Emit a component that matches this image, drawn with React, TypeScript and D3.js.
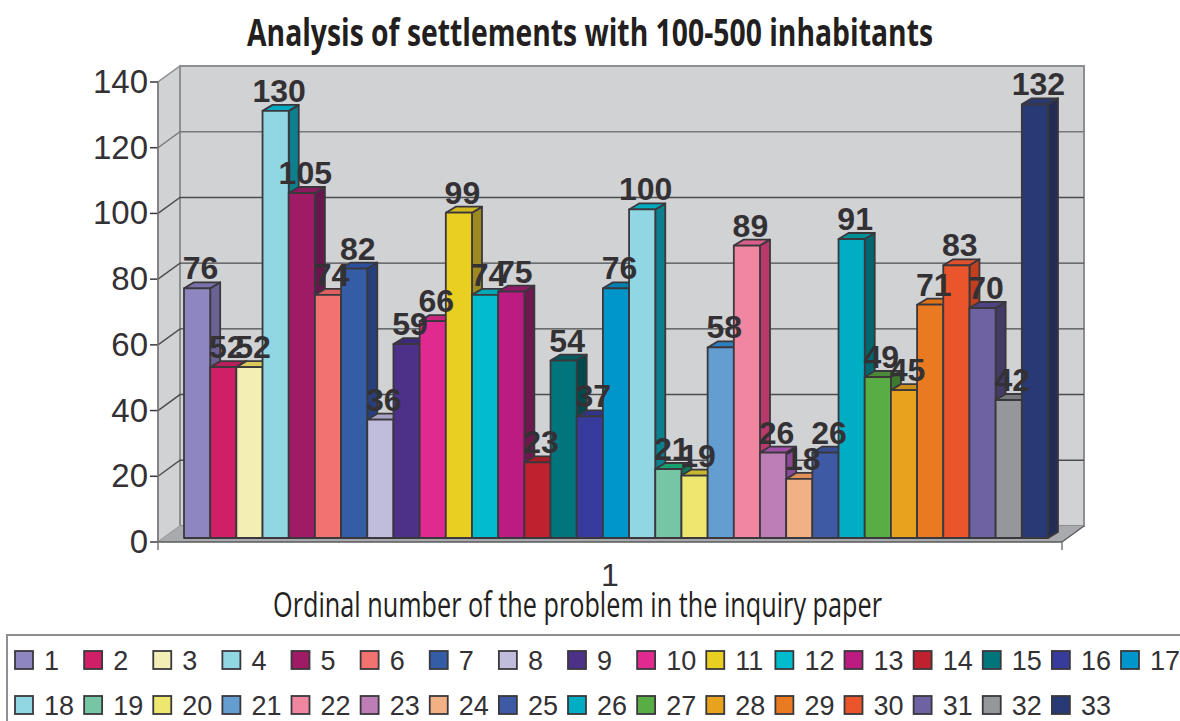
import React from "react";
import * as d3 from "d3";

const categories = Array.from({ length: 33 }, (_, i) => String(i + 1));
const values = [76,52,52,130,105,74,82,36,59,66,99,74,75,23,54,37,76,100,21,19,58,89,26,18,26,91,49,45,71,83,70,42,132];
const fronts = ["#8e86c0","#d01f67","#f3efb4","#90d6e3","#9f1b66","#f27270","#345da6","#c0bcdc","#4d3087","#e02a8f","#e9cf22","#00bccd","#bc1c82","#c0212f","#00767c","#373c9c","#0096cc","#90d6e3","#76c5a5","#ede770","#649dcf","#f186a0","#bd7db7","#f2b085","#3f5aa5","#00aec4","#58ae44","#e8a21e","#ea7a22","#ea552b","#6e62a3","#96979b","#283a76"];
const sides = ["#6a6292","#a01a4e","#b5b280","#0d8090","#65174e","#b85552","#27407c","#9290a6","#3a2466","#a8206c","#9c8a20","#008c9a","#6f1850","#901923","#004a4e","#292d75","#00719a","#0d8090","#0c7a58","#b2ae54","#4b769c","#b83a6c","#8a4a9a","#b68564","#2f447c","#006670","#3c7a30","#ae7a17","#b05c1a","#c04020","#453a66","#717275","#232c54"];
const tops = ["#7a72a8","#b81d5c","#d9c95a","#00a9c0","#8c1a5c","#e06060","#2b50a0","#a8a4c8","#3d2a7a","#c8257e","#d0b81e","#00a8b8","#8f1a65","#a81c28","#005a5e","#30358a","#0080b0","#00a9c0","#1aa06f","#c8b830","#2f7fc0","#d86088","#a050a8","#e09058","#374f92","#009098","#4a8a38","#cc8e1a","#e07018","#e0502a","#4f4386","#77787b","#2a3a70"];
const yTicks = [0, 20, 40, 60, 80, 100, 120, 140];
const titleText = "Analysis of settlements with 100-500 inhabitants";
const xTitleText = "Ordinal number of the problem in the inquiry paper";
const xCategory = "1";

const W = 1180, H = 721;
const frontLeft = 158, frontRight = 1062, wallDx = 22, wallDy = -16;
const y = d3.scaleLinear().domain([0, 140]).range([542, 82]);
const x = d3.scaleBand().domain(categories).range([184, 1048]).padding(0);
const barLiftY = -4, sideDx = 10, sideDy = -6;
const ink = "#3a383c", wallFill = "#d1d2d4", wallEdge = "#8e8f92";
const legendX = d3.scaleLinear().domain([0, 16]).range([14, 1120]);
const poly = (pts: number[][]) => d3.line()(pts as [number, number][]) + "Z";

export default function App() {
  return (
    <svg width={W} height={H} style={{ position: "fixed", left: 0, top: 0, background: "#fff" }} fontFamily="'Liberation Sans', Arial, sans-serif">
      <text x={590} y={46} fontFamily="'Open Sans', sans-serif" fontWeight={700} fontSize={37} textLength={686} lengthAdjust="spacingAndGlyphs" textAnchor="middle" fill="#231f20">{titleText}</text>

      <path d={poly([[frontLeft, y(0)], [frontLeft, y(140)], [frontLeft + wallDx, y(140) + wallDy], [frontLeft + wallDx, y(0) + wallDy]])} fill={wallFill} stroke={wallEdge} strokeWidth={1.5} />
      <rect x={frontLeft + wallDx} y={y(140) + wallDy} width={frontRight - frontLeft} height={y(0) - y(140)} fill={wallFill} stroke={wallEdge} strokeWidth={2} />
      <path d={poly([[frontLeft, y(0)], [frontLeft + wallDx, y(0) + wallDy], [frontRight + wallDx, y(0) + wallDy], [frontRight, y(0)]])} fill="#a9aaad" />

      {yTicks.map((t) => (
        <g key={t}>
          {t > 0 && t < 140 && <path d={`M${frontLeft},${y(t)}L${frontLeft + wallDx},${y(t) + wallDy}H${frontRight + wallDx}`} fill="none" stroke={t >= 120 ? "#77787b" : "#4c4c4e"} strokeWidth={1.4} />}
          <line x1={frontLeft - 8} x2={frontLeft} y1={y(t)} y2={y(t)} stroke={ink} strokeWidth={1.5} />
          <text x={148} y={y(t) + 11} textAnchor="end" fontSize={33} fill="#333134">{t}</text>
        </g>
      ))}
      <line x1={frontLeft} x2={frontRight} y1={y(0)} y2={y(0)} stroke="#58585a" strokeWidth={1.5} />
      <line x1={frontLeft} x2={frontLeft} y1={y(140)} y2={y(0) + 8} stroke="#77787b" strokeWidth={1.5} />
      <line x1={frontRight} x2={frontRight} y1={y(0)} y2={y(0) + 8} stroke="#77787b" strokeWidth={1.5} />
      <line x1={frontRight} x2={frontRight + wallDx} y1={y(0)} y2={y(0) + wallDy} stroke="#58585a" strokeWidth={1.2} />

      {categories.map((c, i) => {
        const x0 = x(c)!, x1 = x0 + x.bandwidth();
        const yb = y(0) + barLiftY, yt = y(values[i]) + barLiftY;
        return (
          <g key={c} stroke={ink} strokeWidth={1.8} strokeLinejoin="round">
            <path d={poly([[x1, yb], [x1, yt], [x1 + sideDx, yt + sideDy], [x1 + sideDx, yb + sideDy]])} fill={sides[i]} />
            <path d={poly([[x0, yt], [x0 + sideDx, yt + sideDy], [x1 + sideDx, yt + sideDy], [x1, yt]])} fill={tops[i]} />
            <rect x={x0} y={yt} width={x.bandwidth()} height={yb - yt} fill={fronts[i]} />
          </g>
        );
      })}
      {categories.map((c, i) => (
        <text key={c} x={x(c)! + x.bandwidth() / 2 + 3.5} y={y(values[i]) + barLiftY - 9} textAnchor="middle" fontSize={32} fontWeight={700} fill="#333134">{values[i]}</text>
      ))}

      <text x={610} y={586} textAnchor="middle" fontSize={32} fill="#333134">{xCategory}</text>
      <text x={577.5} y={617} fontFamily="'Open Sans', sans-serif" fontSize={35} textLength={609} lengthAdjust="spacingAndGlyphs" textAnchor="middle" fill="#231f20">{xTitleText}</text>

      <path d={`M1180,635H7V721`} fill="none" stroke="#8e8f92" strokeWidth={2} />
      {categories.map((c, i) => {
        const col = i % 17, row = Math.floor(i / 17);
        const lx = legendX(col), ly = 650 + row * 45;
        return (
          <g key={c}>
            <rect x={lx + 1} y={ly + 1} width={18} height={18} fill={fronts[i]} stroke={ink} strokeWidth={1.8} />
            <text x={lx + 30} y={ly + 19.5} fontSize={27} fill="#333134">{c}</text>
          </g>
        );
      })}
    </svg>
  );
}
